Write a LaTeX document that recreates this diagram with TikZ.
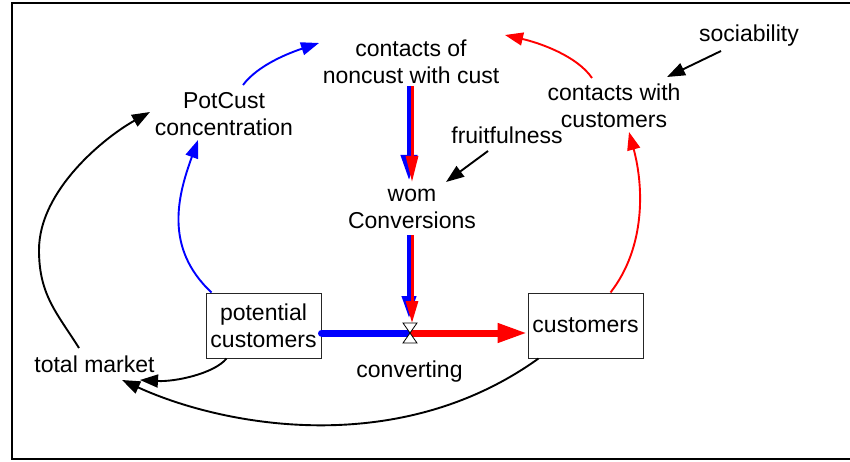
\documentclass[tikz,border=0pt]{standalone}
\usepackage{fontspec}
\setmainfont{Liberation Sans}
\usetikzlibrary{arrows.meta,calc}
\begin{document}
\begin{tikzpicture}[x=1pt,y=-1pt,
  lbl/.style={align=center,font=\fontsize{23}{27}\selectfont,inner sep=0pt},
  stock/.style={draw=black!85,line width=1,minimum width=115,minimum height=65,inner sep=0pt,align=center,font=\fontsize{23}{27}\selectfont},
  link/.style={line width=1.9,-{Triangle[length=18,width=13]}},
  bluelink/.style={link,color=blue},
  redlink/.style={link,color=red},
  blackarrow/.style={link,color=black}
]
\useasboundingbox (0,0) rectangle (850,462);
\draw[line width=2] (851,3) -- (12,3) -- (12,459) -- (851,459);

% nodes
\node[lbl] (cnc) at (411,62) {contacts of\\noncust with cust};
\node[lbl] (pcc) at (224,114) {PotCust\\concentration};
\node[lbl] (cwc) at (614,106) {contacts with\\customers};
\node[lbl] (soc) at (749,36) {sociability};
\node[lbl] (fru) at (507,135) {fruitfulness};
\node[lbl] (wom) at (412,209) {wom\\Conversions};
\node[stock] (pot) at (263.5,325.5) {potential\\customers};
\node[stock] (cus) at (585.5,325.5) {customers};
\node[lbl] (tm) at (94.5,364) {total market};
\node[lbl] (conv) at (409.5,372) {converting};
\coordinate (valve) at (410,333);

% blue links
\draw[bluelink] ($(pcc)+(19,-29)$) .. controls +(15,-20) and +(-30,10) .. ($(cnc)+(-92,-19)$);
\draw[bluelink] ($(pot.north west)+(6,0)$) .. controls +(-48,-45) and +(-20,55) .. ($(pcc)+(-26,26)$);

% red links
\draw[redlink] ($(cwc)+(-22,-28)$) .. controls +(-15,-22) and +(35,8) .. ($(cnc)+(94,-27)$);
\draw[redlink] ($(cus.north)+(25,0)$) .. controls +(35,-45) and +(15,55) .. ($(cwc)+(15,26)$);

% black links
\draw[blackarrow] ($(soc)+(-28,15)$) -- ($(cwc)+(53,-29)$);
\draw[blackarrow] ($(fru)+(-19,16)$) -- ($(wom)+(34,-27)$);
\draw[blackarrow] ($(tm)+(-15.5,-16)$) .. controls +(-22,-35) and +(0,45) .. ($(tm)+(-55.5,-114)$)
   .. controls +(0,-60) and +(-45,25) .. ($(pcc)+(-74,-2)$);
\draw[blackarrow] ($(pot.south west)+(21,0)$) .. controls +(-12,15) and +(35,2) .. ($(tm)+(45.5,16)$);
\draw[blackarrow] ($(cus.south west)+(11,0)$) .. controls +(-142,102) and +(98,45) .. ($(tm)+(27.5,16)$);

% flow pipe
\draw[blue,line width=7,line cap=round] (pot.east |- valve) -- (valve);
\draw[red,line width=7,-{Triangle[length=30,width=18]}] (valve) -- (cus.west |- valve);

% double influence arrows
\draw[blue,line width=4,-{Triangle[length=25,width=16]}] ($(cnc)+(-2,24)$) -- ($(wom)+(-3,-29)$);
\draw[red,line width=3,-{Triangle[length=26,width=12]}] ($(cnc)+(1,24)$) -- ($(wom)+(0,-27)$);
\draw[blue,line width=4,-{Triangle[length=22,width=14]}] ($(wom)+(-3,26)$) -- ($(valve)+(-1,-15)$);
\draw[red,line width=3,-{Triangle[length=22,width=12]}] ($(wom)+(0,26)$) -- ($(valve)+(2,-10)$);

% valve
\draw[fill=white,line width=0.8] ($(valve)+(-7,-10)$) -- ($(valve)+(7,-10)$) -- ($(valve)+(-7,10)$) -- ($(valve)+(7,10)$) -- cycle;
\end{tikzpicture}
\end{document}
